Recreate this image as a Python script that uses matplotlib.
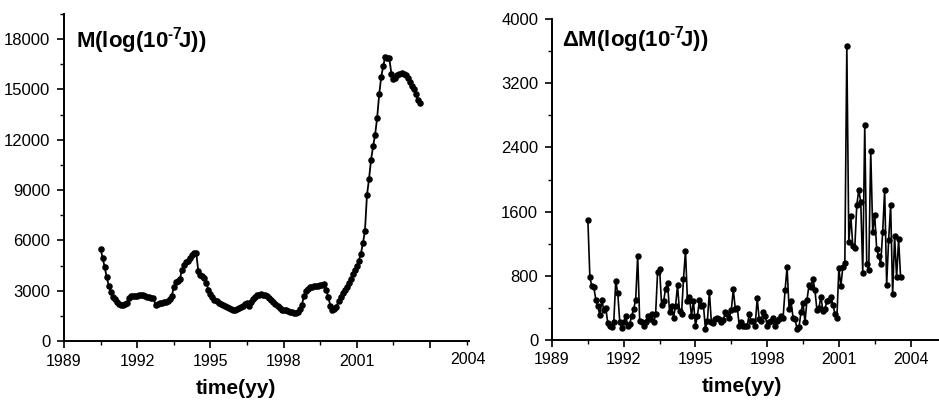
import numpy as np
import matplotlib
matplotlib.use("Agg")
import matplotlib.pyplot as plt
from matplotlib.ticker import MultipleLocator, FuncFormatter

plt.rcParams['font.family'] = ['Liberation Sans', 'DejaVu Sans']
plt.rcParams['mathtext.fontset'] = 'custom'
plt.rcParams['mathtext.rm'] = 'Liberation Sans'
plt.rcParams['mathtext.bf'] = 'Liberation Sans:bold'
plt.rcParams['mathtext.default'] = 'bf'

# monthly samples starting mid-1990
t_start = 1990.5

# cumulative energy M (left panel)
m_values = [
    5490, 4950, 4400, 3800, 3300, 2920,
    2650, 2480, 2320, 2220, 2170, 2150, 2180, 2270, 2580, 2660, 2680, 2700,
    2700, 2720, 2730, 2740, 2700, 2650, 2620, 2580, 2540, 2150, 2190, 2240,
    2280, 2300, 2330, 2400, 2500, 2700, 3200, 3500, 3580, 3700, 4250, 4550,
    4700, 4800, 4950, 5100, 5250, 5270, 4200, 3920, 3870, 3750, 3460, 3050,
    2800, 2620, 2470, 2360, 2250, 2180, 2130, 2080, 2030, 1950, 1900, 1860,
    1860, 1900, 1940, 2000, 2100, 2220, 2240, 2060, 2300, 2520, 2650, 2720,
    2760, 2780, 2770, 2750, 2700, 2580, 2450, 2300, 2180, 2060, 1950, 1870,
    1840, 1820, 1780, 1750, 1720, 1690, 1660, 1720, 1880, 2150, 2700, 2960,
    3100, 3200, 3240, 3270, 3280, 3300, 3330, 3360, 3400, 3050, 2600, 2100,
    1820, 1880, 2050, 2400, 2650, 2850, 3040, 3250, 3450, 3720, 4000, 4250,
    4450, 4800, 5200, 5830, 6550, 8700, 9650, 10800, 11600, 12300, 13300, 14700,
    15750, 16400, 16950, 16880, 16850, 15950, 15600, 15700, 15880, 15950, 15960, 15900,
    15860, 15700, 15450, 15200, 15000, 14700, 14350, 14170,
]

# monthly energy increments dM (right panel)
dm_values = [
    1490, 780, 670, 655, 500, 420,
    310, 500, 370, 395, 210, 175, 160, 230, 740, 580, 230, 145,
    220, 300, 170, 200, 300, 390, 500, 1050, 240, 220, 180, 230,
    300, 260, 320, 220, 320, 850, 890, 440, 480, 640, 710, 350,
    420, 280, 420, 680, 360, 320, 760, 1110, 480, 540, 300, 480,
    180, 300, 500, 420, 440, 140, 240, 600, 220, 210, 260, 270,
    260, 230, 250, 350, 320, 280, 370, 630, 390, 400, 180, 220,
    180, 180, 180, 320, 240, 240, 180, 520, 260, 240, 350, 300,
    180, 220, 240, 280, 180, 240, 260, 300, 280, 620, 910, 390,
    480, 280, 260, 140, 160, 350, 460, 220, 500, 680, 660, 760,
    620, 370, 400, 540, 360, 390, 480, 500, 540, 440, 330, 270,
    893, 673, 906, 955, 3660, 1220, 1550, 1170, 1150, 1680, 1870, 1720,
    840, 2680, 950, 870, 2360, 1350, 1560, 1130, 1050, 950, 1340, 1870,
    690, 1250, 1680, 570, 1290, 780, 1260, 780,
]

m_time = t_start + np.arange(len(m_values)) / 12.0
dm_time = t_start + np.arange(len(dm_values)) / 12.0

fig = plt.figure(figsize=(9.39, 4.0), dpi=100)
ax1 = fig.add_axes([0.0682, 0.1475, 0.4313, 0.8175])
ax2 = fig.add_axes([0.5879, 0.15, 0.4121, 0.8025])


def style(ax, ymax, ymajor):
    for s in ('top', 'right'):
        ax.spines[s].set_visible(False)
    for s in ('left', 'bottom'):
        ax.spines[s].set_linewidth(1.4)
    ax.set_ylim(0, ymax)
    ax.xaxis.set_major_locator(MultipleLocator(3))
    ax.xaxis.set_minor_locator(MultipleLocator(1.5))
    ax.yaxis.set_major_locator(MultipleLocator(ymajor))
    ax.yaxis.set_minor_locator(MultipleLocator(ymajor / 2))
    ax.tick_params(which='major', direction='out', length=5, width=1.2, pad=4)
    ax.tick_params(axis='x', labelsize=11.5)
    ax.tick_params(axis='y', labelsize=12, pad=5)
    ax.tick_params(which='minor', direction='out', length=3, width=1.0)
    ax.set_xlabel('time(yy)', fontsize=15, fontweight='bold', labelpad=2)


ax1.plot(m_time, m_values, '-o', color='black', lw=1.3, ms=3.7)
ax1.set_xlim(1989, 2005.6)
style(ax1, 19500, 3000)
# the last year label sits off its tick in the original figure
ax1.xaxis.set_major_formatter(FuncFormatter(lambda v, p: '' if v > 2003 else '%d' % v))
ax1.text(2005.55, -0.035, '2004', transform=ax1.get_xaxis_transform(),
         fontsize=11.5, ha='center', va='top')
ax1.xaxis.set_label_coords(0.425, -0.115)
ax1.text(0.03, 0.965, 'M(log(10$^{\u20107}\\!$J))', transform=ax1.transAxes,
         fontsize=16, fontweight='bold', va='top', ha='left')

ax2.plot(dm_time, dm_values, '-o', color='black', lw=1.2, ms=3.6)
ax2.set_xlim(1989, 2005.19)
style(ax2, 4000, 800)
ax2.xaxis.set_label_coords(0.49, -0.115)
ax2.text(0.025, 0.985, '\u0394M(log(10$^{\u20107}\\!$J))', transform=ax2.transAxes,
         fontsize=16, fontweight='bold', va='top', ha='left')

fig.savefig('out.png', dpi=100)
